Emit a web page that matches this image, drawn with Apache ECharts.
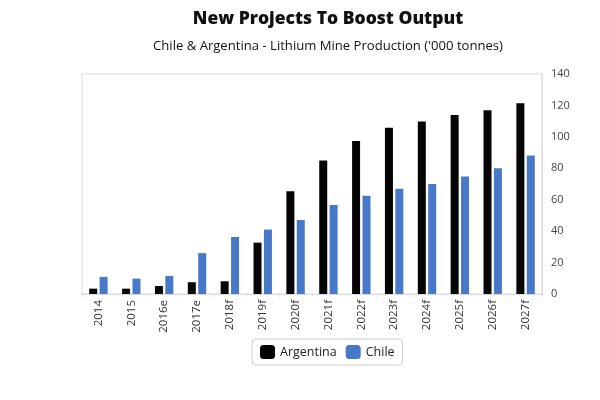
<!DOCTYPE html>
<html>
<head>
<meta charset="utf-8">
<script src="https://cdn.jsdelivr.net/npm/echarts@6/dist/echarts.min.js"></script>
<style>
html, body { margin: 0; padding: 0; background: #fff; }
#main { width: 600px; height: 400px; }
</style>
</head>
<body>
<div id="main"></div>
<script>
var years = ['2014', '2015', '2016e', '2017e', '2018f', '2019f', '2020f', '2021f',
    '2022f', '2023f', '2024f', '2025f', '2026f', '2027f'];
var argentina = [3.4, 3.4, 5.1, 7.5, 8.1, 32.7, 65.4, 85, 97.3, 105.8, 109.8, 113.9, 117, 121.4];
var chile = [10.9, 9.8, 11.5, 26, 36.3, 41, 47.1, 56.7, 62.5, 67, 70, 74.8, 80, 88.2];
var yTicks = [0, 20, 40, 60, 80, 100, 120, 140];

var chart = echarts.init(document.getElementById('main'));

var option = {
    animation: false,
    title: [{
        text: 'New Projects To Boost Output',
        left: 323,
        top: 5,
        textAlign: 'center',
        textStyle: {
            fontFamily: 'Open Sans',
            fontWeight: 800,
            fontSize: 17.5,
            color: '#111'
        }
    }, {
        text: "Chile & Argentina - Lithium Mine Production ('000 tonnes)",
        left: 323,
        top: 35,
        textAlign: 'center',
        textStyle: {
            fontFamily: 'Open Sans',
            fontWeight: 'normal',
            fontSize: 13.1,
            color: '#111'
        }
    }],
    legend: {
        data: ['Argentina', 'Chile'],
        left: 252,
        top: 339,
        itemWidth: 15,
        itemHeight: 14,
        itemGap: 9,
        icon: 'roundRect',
        borderColor: '#ccc',
        borderWidth: 1,
        borderRadius: 4,
        padding: [6, 8],
        textStyle: {
            fontFamily: 'Open Sans',
            fontSize: 12.5,
            color: '#222'
        }
    },
    grid: {
        left: 82,
        right: 58,
        top: 74,
        bottom: 106,
        show: true,
        borderColor: '#ddd',
        borderWidth: 1
    },
    xAxis: {
        type: 'category',
        data: years,
        axisLine: { lineStyle: { color: '#ddd' } },
        axisTick: { show: true, alignWithLabel: false, lineStyle: { color: '#ddd' }, length: 3 },
        axisLabel: {
            rotate: 90,
            fontFamily: 'Open Sans',
            fontSize: 11.5,
            color: '#333',
            margin: 6
        }
    },
    yAxis: {
        type: 'value',
        position: 'right',
        min: yTicks[0],
        max: yTicks[yTicks.length - 1],
        interval: 20,
        splitLine: { show: false },
        axisLine: { show: true, lineStyle: { color: '#ddd' } },
        axisTick: { show: false },
        axisLabel: {
            fontFamily: 'Open Sans',
            fontSize: 11,
            color: '#444',
            margin: 9
        }
    },
    series: [{
        name: 'Argentina',
        type: 'bar',
        data: argentina,
        barWidth: 8,
        barGap: '30%',
        itemStyle: { color: '#050505' }
    }, {
        name: 'Chile',
        type: 'bar',
        data: chile,
        barWidth: 8,
        itemStyle: { color: '#4878c8' }
    }]
};

chart.setOption(option);
</script>
</body>
</html>
